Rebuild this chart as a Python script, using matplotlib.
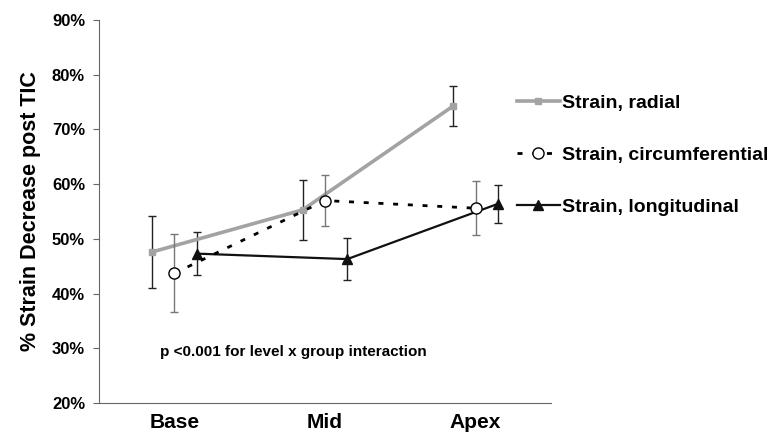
import numpy as np
import matplotlib.pyplot as plt
from matplotlib.ticker import FuncFormatter

# данные с графика (% снижения strain после TIC)
levels = ['Base', 'Mid', 'Apex']
radial = [47.6, 55.3, 74.3]
radial_err = [6.6, 5.5, 3.6]
circ = [43.7, 57.0, 55.6]
circ_err = [7.1, 4.7, 4.9]
longit = [47.3, 46.3, 56.4]
longit_err = [3.9, 3.9, 3.5]

plt.rcParams['font.family'] = ['Liberation Sans', 'DejaVu Sans']
plt.rcParams['font.weight'] = 'bold'

fig = plt.figure(figsize=(7.69, 4.33), dpi=100)
ax = fig.add_axes([0.1287, 0.0693, 0.5878, 0.8845])

x = np.arange(len(levels))
off = 0.148

c1 = ax.errorbar(x - off, radial, yerr=radial_err, color='#a3a3a3', lw=2.6,
                 marker='s', ms=5, ecolor='#222222', elinewidth=1, capsize=3,
                 label='Strain, radial', zorder=3)
c2 = ax.errorbar(x, circ, yerr=circ_err, color='black', lw=2, ls=(0, (1.8, 3.5)),
                 marker='o', ms=8, mfc='white', mec='black', mew=1,
                 ecolor='#777777', elinewidth=1, capsize=3,
                 label='Strain, circumferential', zorder=4)
c3 = ax.errorbar(x + off, longit, yerr=longit_err, color='#111111', lw=1.6,
                 marker='^', ms=7, ecolor='#222222', elinewidth=1, capsize=3,
                 label='Strain, longitudinal', zorder=3)

ax.set_xlim(-0.5, 2.5)
ax.set_ylim(20, 90)
ax.set_yticks(range(20, 91, 10))
ax.yaxis.set_major_formatter(FuncFormatter(lambda v, p: f'{v:.0f}%'))
ax.set_xticks(x)
ax.set_xticklabels(levels, fontsize=15, fontweight='bold')
ax.tick_params(axis='x', length=0, pad=7)
ax.tick_params(axis='y', length=4, color='#666666', labelsize=12, pad=6)
for s in ['top', 'right']:
    ax.spines[s].set_visible(False)
for s in ['left', 'bottom']:
    ax.spines[s].set_color('#666666')

ax.set_ylabel('% Strain Decrease post TIC', fontsize=15.5, fontweight='bold', labelpad=8)

ax.text(-0.095, 29.3, 'p <0.001 for level x group interaction',
        fontsize=11, fontweight='bold', va='center', ha='left')

handles = [c1[0], c2[0], c3[0]]
labels = ['Strain, radial', 'Strain, circumferential', 'Strain, longitudinal']
leg = ax.legend(handles, labels, loc='upper left', bbox_to_anchor=(0.925, 0.805),
                frameon=False, fontsize=14, labelspacing=1.75, handlelength=2.2,
                handletextpad=0.12, borderaxespad=0.0, borderpad=0.0)
for t in leg.get_texts():
    t.set_fontweight('bold')

fig.savefig('out.png', dpi=100)
